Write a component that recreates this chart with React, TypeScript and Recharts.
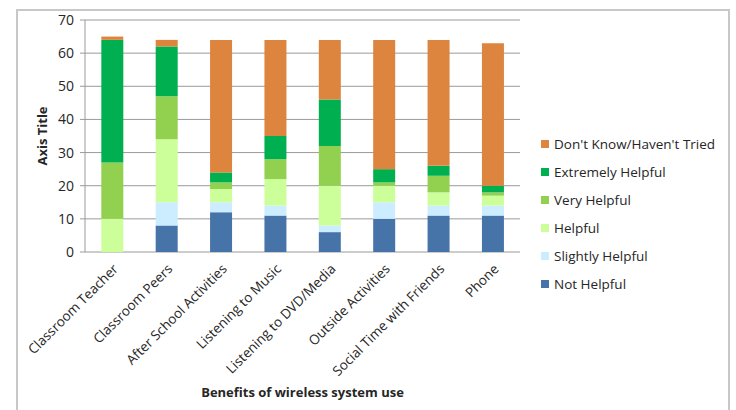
import React from 'react';
import { BarChart, Bar, XAxis, YAxis, CartesianGrid, Legend } from 'recharts';

const categories = [
  'Classroom Teacher',
  'Classroom Peers',
  'After School Activities',
  'Listening to Music',
  'Listening to DVD/Media',
  'Outside Activities',
  'Social Time with Friends',
  'Phone',
];
const notHelpful = [0, 8, 12, 11, 6, 10, 11, 11];
const slightlyHelpful = [0, 7, 3, 3, 2, 5, 3, 3];
const helpful = [10, 19, 4, 8, 12, 5, 4, 3];
const veryHelpful = [17, 13, 2, 6, 12, 1, 5, 1];
const extremelyHelpful = [37, 15, 3, 7, 14, 4, 3, 2];
const dontKnow = [1, 2, 40, 29, 18, 39, 38, 43];
const yTicks = [0, 10, 20, 30, 40, 50, 60, 70];
const boundaryTicks = [0, 1, 2, 3, 4, 5, 6, 7, 8];

const series = [
  { key: 'notHelpful', name: 'Not Helpful', values: notHelpful, color: '#4674A9' },
  { key: 'slightlyHelpful', name: 'Slightly Helpful', values: slightlyHelpful, color: '#CCECFF' },
  { key: 'helpful', name: 'Helpful', values: helpful, color: '#CCFF99' },
  { key: 'veryHelpful', name: 'Very Helpful', values: veryHelpful, color: '#92D050' },
  { key: 'extremelyHelpful', name: 'Extremely Helpful', values: extremelyHelpful, color: '#00B050' },
  { key: 'dontKnow', name: "Don't Know/Haven't Tried", values: dontKnow, color: '#DD843E' },
];

const data = categories.map((c, i) => {
  const row: Record<string, number | string> = { category: c };
  series.forEach((s) => {
    row[s.key] = s.values[i];
  });
  return row;
});

const FONT = '"Open Sans", "Liberation Sans", sans-serif';
const GRAY = '#9a9a9a';
const TEXT = '#262626';

const renderLegend = () => {
  const items = [...series].reverse();
  return (
    <div style={{ fontFamily: FONT, fontSize: 13.5, color: TEXT, textAlign: 'left' }}>
      {items.map((it) => (
        <div key={it.key} style={{ display: 'flex', alignItems: 'center', height: 28 }}>
          <span style={{ width: 8, height: 8, background: it.color, display: 'inline-block', marginRight: 5 }} />
          <span style={{ whiteSpace: 'nowrap' }}>{it.name}</span>
        </div>
      ))}
    </div>
  );
};

export default function App() {
  return (
    <div style={{ position: 'absolute', left: 0, top: 0, width: 736, height: 410, background: '#fff' }}>
      <div
        style={{
          position: 'absolute',
          left: 16,
          top: 9,
          width: 710,
          height: 420,
          border: '2px solid #c8c8c8',
          borderBottom: 'none',
        }}
      />
      <div style={{ position: 'absolute', left: 0, top: 0 }}>
        <BarChart
          width={736}
          height={410}
          data={data}
          margin={{ top: 20, right: 216, left: 0, bottom: 8 }}
          barCategoryGap="30%"
        >
          <CartesianGrid vertical={false} stroke={GRAY} strokeWidth={1} />
          <XAxis
            xAxisId="ticks"
            type="number"
            domain={[0, 8]}
            ticks={boundaryTicks}
            tick={false}
            tickSize={5}
            height={0}
            stroke={GRAY}
            allowDataOverflow
          />
          <XAxis
            xAxisId="cat"
            dataKey="category"
            height={150}
            axisLine={false}
            tickLine={false}
            tickSize={5}
            tickMargin={6}
            interval={0}
            tick={{ angle: -45, textAnchor: 'end', fontSize: 13.5, fill: TEXT, fontFamily: FONT }}
            label={{
              value: 'Benefits of wireless system use',
              position: 'insideBottom',
              offset: 5,
              fontSize: 13,
              fontWeight: 'bold',
              fill: TEXT,
              fontFamily: FONT,
            }}
          />
          <YAxis
            width={85}
            domain={[0, 70]}
            ticks={yTicks}
            tickSize={5}
            tickMargin={6}
            stroke={GRAY}
            tick={{ fontSize: 14, fill: TEXT, fontFamily: FONT }}
            label={{
              value: 'Axis Title',
              angle: -90,
              position: 'center',
              fontSize: 13,
              fontWeight: 'bold',
              fill: TEXT,
              fontFamily: FONT,
            }}
          />
          <Legend
            layout="vertical"
            align="center"
            verticalAlign="middle"
            content={renderLegend}
            wrapperStyle={{ left: 541, top: 130, width: 195 }}
          />
          {series.map((s) => (
            <Bar
              key={s.key}
              xAxisId="cat"
              dataKey={s.key}
              name={s.name}
              stackId="a"
              fill={s.color}
              isAnimationActive={false}
            />
          ))}
        </BarChart>
      </div>
    </div>
  );
}
